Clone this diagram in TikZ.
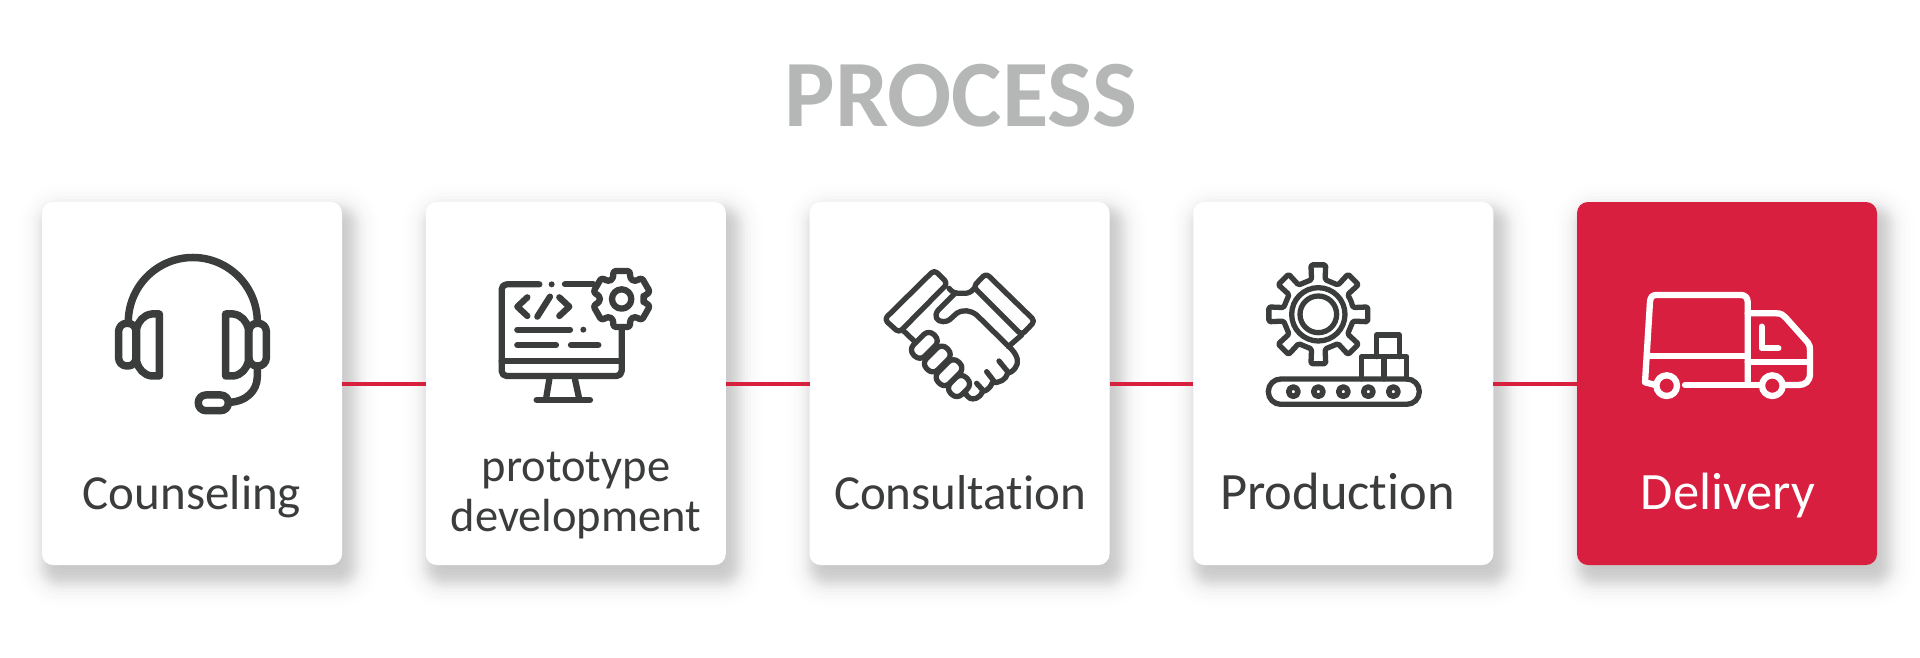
\documentclass[tikz,border=0pt]{standalone}
\usepackage{fontspec}
\setmainfont{Carlito}[Ligatures={NoCommon}]
\usetikzlibrary{positioning, backgrounds}
\definecolor{inkgray}{HTML}{3B3D3C}
\definecolor{titlegray}{HTML}{B5B7B6}
\definecolor{accentred}{HTML}{D81F3F}
% gear outline: tooth step, first tooth, outer radius, root radius, half angles
\newcommand{\gearoutline}[6]{%
  \draw[rounded corners=#6pt, fill=white] ({#2-#1/2}:#4)
    \foreach \a in {0,#1,...,359} {
      -- ({#2+\a-#5*1.3}:#4) -- ({#2+\a-#5}:#3) -- ({#2+\a+#5}:#3) -- ({#2+\a+#5*1.3}:#4)
    } -- cycle;}
\tikzset{
  iconunit/.style={x=0.3333pt, y=-0.3333pt},
  icon/.style={draw=inkgray, line cap=round, line join=round},
  card/.style={rectangle, rounded corners=11pt, minimum width=300pt, minimum height=363pt, inner sep=0pt, outer sep=0pt, fill=white},
  steplabel/.style={font=\fontsize{#1}{50}\selectfont, text=inkgray, anchor=base, inner sep=0pt, align=center},
  link/.style={draw=accentred, line width=4pt}
}
\begin{document}
\begin{tikzpicture}[x=1pt, y=-1pt, node distance=83.75pt]
  \useasboundingbox (0,0) rectangle (1920,657);

  \node (title) at (961,126) [anchor=base, inner sep=0pt, text=titlegray, font=\fontsize{95}{95}\selectfont\bfseries] {PROCESS};

  \node (card1) at (192,383.5) [card] {};
  \node (card2) [card, right=of card1] {};
  \node (card3) [card, right=of card2] {};
  \node (card4) [card, right=of card3] {};
  \node (card5) [card, right=of card4, fill=accentred] {};

  \begin{pgfonlayer}{background}
    \foreach \c in {card1,card2,card3,card4,card5} {
      \foreach \d/\o in {-22/.004,-17/.007,-12/.011,-8/.014,-5/.016,-2/.018,0/.018,2/.02,4/.02,6/.02,8/.02,10/.018,12/.018,15/.016,18/.012,22/.009,26/.006,31/.004} {
        \pgfmathsetmacro{\r}{max(5,12+\d)}
        \fill[black, opacity=\o, rounded corners=\r pt]
          ([xshift={(7-\d)*1pt}, yshift={(-12+\d)*1pt}]\c.north west) rectangle
          ([xshift={(7+\d)*1pt}, yshift={(-12-\d)*1pt}]\c.south east);
      }
    }
  \end{pgfonlayer}

  \draw[link] (card1) -- (card2);
  \draw[link] (card2) -- (card3);
  \draw[link] (card3) -- (card4);
  \draw[link] (card4) -- (card5);

  \node (lab1) at (192,509) [steplabel=49] {Counseling};
  \node (lab2) at (576,531) [steplabel=46.5] {prototype\\development};
  \node (lab3) at (960,509) [steplabel=49] {Consultation};
  \node (lab4) at (1337.5,509) [steplabel=52.5] {Production};
  \node (lab5) at (1728,509) [steplabel=52.5, text=white] {Delivery};

  % headset
  \begin{scope}[shift={(0,180)}, iconunit, icon, line width=7.5pt]
    \draw (385,426) arc[start angle=180, end angle=0, radius=64.5pt];
    \foreach \flip/\off in {1/0,-1/1155} {
      \begin{scope}[shift={(\off,0)}, xscale=\flip]
        \draw[rounded corners=8pt, fill=white] (356,430) rectangle (408,558);
        \draw[fill=white] (478,402) -- (455,402) .. controls (430,405) and (415,425) .. (410,445) -- (410,545) .. controls (415,565) and (430,585) .. (455,588) -- (478,588) -- cycle;
      \end{scope}
    }
    \draw (772,562) -- (772,590) .. controls (772,635) and (735,665) .. (690,667);
    \draw[rounded corners=7.5pt] (595,645) rectangle (685,692);
  \end{scope}

  % monitor with gear
  \begin{scope}[shift={(420,180)}, iconunit, icon, line width=6.3pt]
    \draw[rounded corners=5pt] (358,313) -- (245,313) -- (245,588) -- (605,588) -- (605,445);
    \draw (435,313) -- (520,313);
    \fill[inkgray] (395,313) circle (9);
    \draw (245,542) -- (605,542);
    \draw (388,598) -- (378,658);
    \draw (465,598) -- (478,658);
    \draw (350,660) -- (510,660);
    \draw (322,352) -- (292,380) -- (322,408);
    \draw (390,350) -- (352,410);
    \draw (418,352) -- (448,380) -- (418,408);
    \draw (292,449) -- (450,449);
    \fill[inkgray] (490,449) circle (9);
    \draw (292,495) -- (408,495);
    \draw (453,495) -- (535,495);
    \begin{scope}[shift={(605,357)}]
      \gearoutline{60}{30}{88}{66}{17}{3}
      \draw (0,0) circle (29);
    \end{scope}
  \end{scope}

  % handshake
  \begin{scope}[shift={(875,260)}, iconunit, icon, line width=5.3pt]
    \draw[rounded corners=4pt] (178,30) -- (28,178) -- (72,218) -- (218,70) -- cycle;
    \draw[rounded corners=4pt] (333,40) -- (480,183) -- (440,225) -- (295,80) -- cycle;
    \draw (222,85) .. controls (232,97) and (240,100) .. (250,100) -- (270,100) .. controls (280,100) and (290,95) .. (298,85);
    \draw (240,100) -- (190,150) .. controls (175,168) and (185,185) .. (205,185) .. controls (215,185) and (220,182) .. (225,178) -- (245,160) .. controls (265,148) and (285,150) .. (305,165) -- (410,268) .. controls (430,290) and (432,310) .. (420,325) .. controls (412,335) and (405,338) .. (398,340) .. controls (392,360) and (375,368) .. (352,368) .. controls (345,385) and (335,392) .. (322,395) .. controls (315,415) and (295,420) .. (285,415) .. controls (278,410) and (272,405) .. (270,395);
    \draw (400,260) -- (440,225);
    \draw (85,212) -- (130,255);
    \draw (372,303) -- (398,335);
    \draw (335,335) -- (358,365);
    \draw (305,370) -- (325,392);
    \foreach \fx/\fy/\len in {148/256/43, 187/297/43, 222/338/43, 252/378/33} {
      \begin{scope}[shift={(\fx,\fy)}, rotate=45]
        \draw[fill=white, rounded corners=7pt] (-\len,-24) rectangle (\len,24);
      \end{scope}
    }
  \end{scope}

  % gear on conveyor belt
  \begin{scope}[shift={(1260,255)}, iconunit, icon, line width=5.3pt]
    \begin{scope}[shift={(175,178)}]
      \gearoutline{45}{0}{150}{106}{8.5}{1.5}
      \draw (0,0) circle (80);
      \draw (0,0) circle (55);
    \end{scope}
    \draw (350,305) -- (350,240) -- (418,240) -- (418,305);
    \draw (305,372) -- (305,305) -- (440,305) -- (440,372);
    \draw (372,305) -- (372,372);
    \draw[rounded corners=12.5pt] (25,372) rectangle (478,448);
    \foreach \wx in {100,175,250,325,400} {
      \draw[line width=5.6pt] (\wx,410) circle (14);
    }
  \end{scope}

  % truck
  \begin{scope}[shift={(1635,285)}, iconunit, draw=white, line cap=round, line join=round, line width=6.3pt]
    \draw (62,300) -- (30,292) -- (45,50) .. controls (46,38) and (52,30) .. (62,30) -- (318,30) .. controls (330,30) and (338,38) .. (338,50) -- (338,300);
    \draw (338,85) -- (425,85) .. controls (438,85) and (445,90) .. (452,98) -- (518,172) .. controls (524,180) and (525,185) .. (525,195) -- (525,265) .. controls (525,290) and (510,300) .. (490,300) -- (440,300);
    \draw (150,300) -- (380,300);
    \draw (45,214) -- (338,214);
    \draw (338,232) -- (525,232);
    \draw (380,125) -- (380,190) -- (430,190);
    \draw[fill=accentred] (95,302) circle (31);
    \draw[fill=accentred] (412,302) circle (31);
  \end{scope}
\end{tikzpicture}
\end{document}
